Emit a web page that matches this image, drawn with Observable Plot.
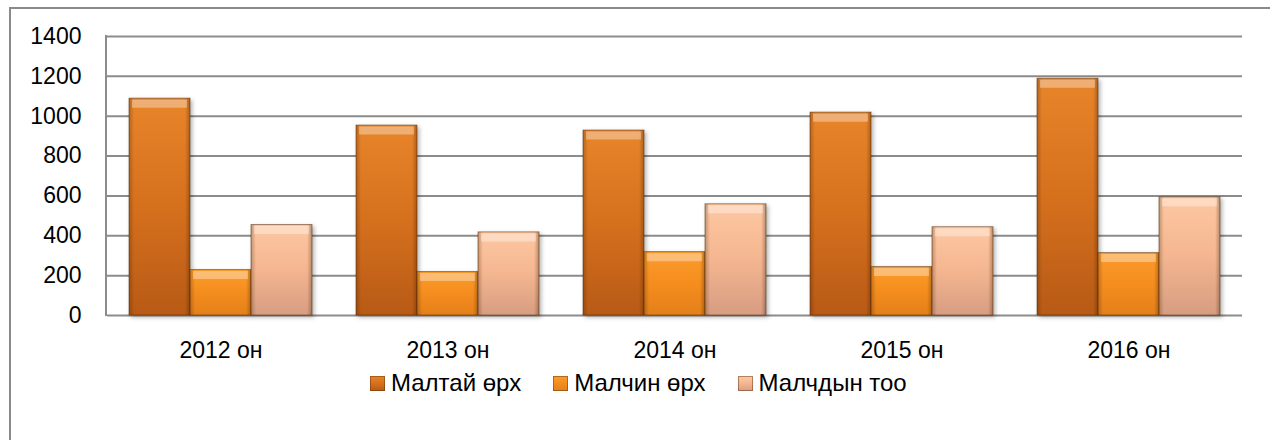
<!DOCTYPE html>
<html>
<head>
<meta charset="utf-8">
<script src="https://cdn.jsdelivr.net/npm/d3@7"></script>
<script src="https://cdn.jsdelivr.net/npm/@observablehq/plot@0.6"></script>
<style>
  html, body { margin: 0; padding: 0; background: #fff; }
  body { width: 1270px; height: 440px; overflow: hidden; position: relative; font-family: "Liberation Sans", Arial, sans-serif; }
  #frame { position: absolute; left: 9px; top: 7px; width: 1400px; height: 600px; border-left: 2px solid #8a8a8a; border-top: 2px solid #8a8a8a; }
  #chart { position: absolute; left: 0; top: 0; }
  #legend { position: absolute; left: 370px; top: 369px; display: flex; font-size: 24px; line-height: 28px; color: #000; }
  #legend .item { display: inline-flex; align-items: center; margin-right: 32px; }
  #legend .sw { display: inline-block; width: 15px; height: 15px; margin-right: 6px; box-shadow: inset 0 0 0 1px rgba(90,45,10,0.45); }
</style>
</head>
<body>
<div id="frame"></div>
<div id="chart"></div>
<div id="legend"></div>
<script>
// ---- data ----
const years = ["2012 он", "2013 он", "2014 он", "2015 он", "2016 он"];
const series = ["Малтай өрх", "Малчин өрх", "Малчдын тоо"];
const maltaiOrh = [1088, 953, 928, 1018, 1188];
const malchinOrh = [228, 218, 318, 243, 313];
const malchdynToo = [454, 417, 558, 443, 593];
const yTicks = [0, 200, 400, 600, 800, 1000, 1200, 1400];

// ---- styles ----
const gradIds = ["gMaltai", "gMalchin", "gMalchdyn"];
const gradStops = [
  ["#e8852a", "#d5701d", "#b85a16"],
  ["#fb9c2c", "#f58d1e", "#e3801a"],
  ["#fdc8a2", "#f4b690", "#d79d82"]
];

const valuesBySeries = [maltaiOrh, malchinOrh, malchdynToo];
const data = years.flatMap((yr, i) => series.map((s, j) => ({year: yr, series: s, value: valuesBySeries[j][i]})));

const plot = Plot.plot({
  width: 1270,
  height: 370,
  marginLeft: 106,
  marginRight: 27,
  marginTop: 36,
  marginBottom: 55,
  style: {fontFamily: "'Liberation Sans', Arial, sans-serif", fontSize: "23px", color: "#000", background: "transparent", overflow: "visible"},
  fx: {domain: years, padding: 0, label: null, axis: "bottom", tickSize: 0, tickPadding: 26},
  x: {domain: series, paddingInner: 0, paddingOuter: 0.36, axis: null},
  y: {domain: [0, 1400], axis: null},
  color: {domain: series, range: gradIds.map(id => `url(#${id})`)},
  marks: [
    Plot.gridY(yTicks, {stroke: "#8c8c8c", strokeOpacity: 1, strokeWidth: 2}),
    Plot.axisY(yTicks, {tickSize: 0, tickPadding: 26, label: null, tickFormat: d => String(d)}),
    Plot.barY(data, {fx: "year", x: "series", y: "value", fill: "series", stroke: "#5a300c", strokeWidth: 1, strokeOpacity: 0.55}),
    Plot.barY(data, {fx: "year", x: "series", y: "value", fill: "url(#gSides)"}),
    Plot.tickY(data, {fx: "year", x: "series", y: "value", stroke: "#ffffff", strokeOpacity: 0.35, strokeWidth: 8, dy: 5, insetLeft: 3, insetRight: 3})
  ]
});

// gradient definitions
const svg = d3.select(plot);
const defs = svg.insert("defs", ":first-child");
gradIds.forEach((id, i) => {
  const g = defs.append("linearGradient").attr("id", id).attr("x1", 0).attr("y1", 0).attr("x2", 0).attr("y2", 1);
  g.append("stop").attr("offset", "0%").attr("stop-color", gradStops[i][0]);
  g.append("stop").attr("offset", "50%").attr("stop-color", gradStops[i][1]);
  g.append("stop").attr("offset", "100%").attr("stop-color", gradStops[i][2]);
});
const side = defs.append("linearGradient").attr("id", "gSides").attr("x1", 0).attr("y1", 0).attr("x2", 1).attr("y2", 0);
[["0%", 0.28], ["8%", 0.0], ["92%", 0.0], ["100%", 0.32]].forEach(([o, a]) =>
  side.append("stop").attr("offset", o).attr("stop-color", "#3a1a00").attr("stop-opacity", a));

// subtle shadow for bars
const barGroups = plot.querySelectorAll('g[aria-label="bar"]');
if (barGroups[0]) barGroups[0].setAttribute("style", "filter: drop-shadow(2px 2px 2px rgba(0,0,0,0.3))");

// left axis line, from the y scale range
const yScale = plot.scale("y");
const [yBottom, yTop] = yScale.range;
svg.append("line").attr("x1", 106).attr("x2", 106).attr("y1", Math.min(yTop, yBottom) - 1).attr("y2", Math.max(yTop, yBottom) + 1)
  .attr("stroke", "#8c8c8c").attr("stroke-width", 2);

document.getElementById("chart").appendChild(plot);

// legend
const cssGrad = gradStops.map(s => `linear-gradient(to bottom, ${s[0]}, ${s[1]} 50%, ${s[2]})`);
const legend = d3.select("#legend");
series.forEach((s, i) => {
  const item = legend.append("span").attr("class", "item");
  item.append("span").attr("class", "sw").style("background", cssGrad[i]);
  item.append("span").text(s);
});
</script>
</body>
</html>
